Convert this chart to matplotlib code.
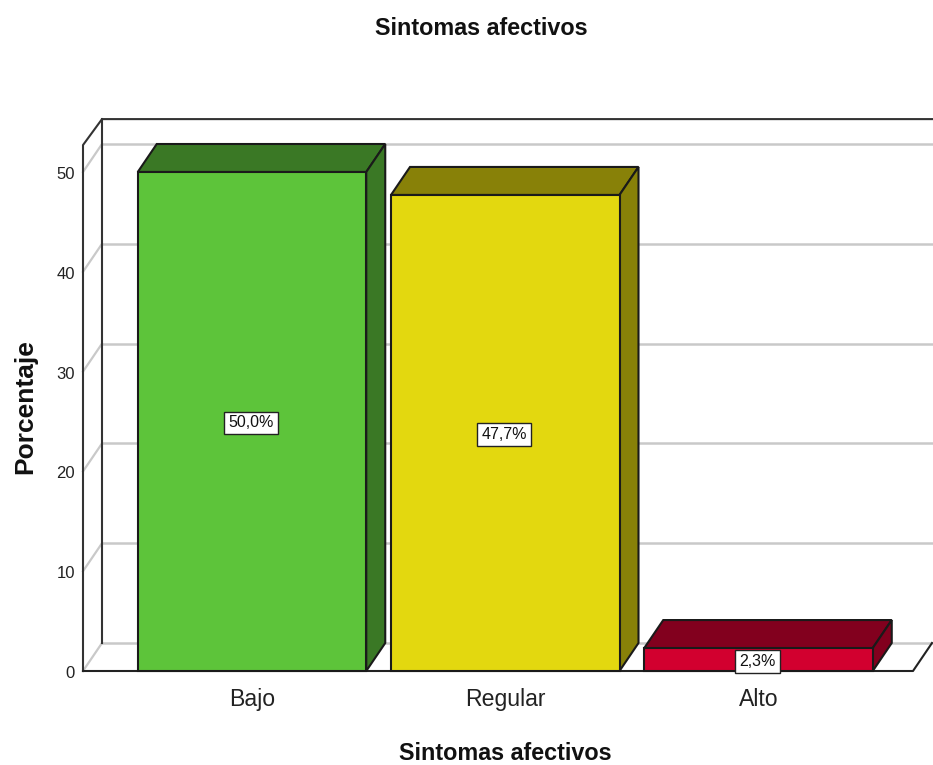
import matplotlib
matplotlib.use("Agg")
import matplotlib.pyplot as plt
from matplotlib.patches import Polygon

plt.rcParams["font.family"] = ["Liberation Sans", "DejaVu Sans"]

categories = ["Bajo", "Regular", "Alto"]
values = [50.0, 47.7, 2.3]
labels = ["50,0%", "47,7%", "2,3%"]
y_ticks = [0, 10, 20, 30, 40, 50]

FRONT = ["#5DC43A", "#E3D80F", "#D2002F"]
SHADE = ["#3A7825", "#888108", "#82001E"]
GRID = "#C9C9C9"
EDGE = "#1A1A1A"

# chart scale: 253.25 px per category, 9.98 px per percent
DX = 19 / 253.25
DY = 28 / 9.98
BAR_W = 228.5 / 253.25
Y_TOP = 52.7
X_LEFT = -169 / 253.25
X_RIGHT = 661 / 253.25

fig = plt.figure(figsize=(9.33, 7.65), dpi=100, facecolor="white")
ax = fig.add_axes([0, 0, 1, 1])
ax.set_xlim(-252 / 253.25, 681 / 253.25)
ax.set_ylim(-94 / 9.98, 671 / 9.98)
ax.axis("off")

# back wall gridlines and side wall
for t in y_ticks:
    ax.plot([X_LEFT, X_LEFT + DX], [t, t + DY], color=GRID, lw=1.6, zorder=1)
    ax.plot([X_LEFT + DX, X_RIGHT + DX], [t + DY, t + DY], color=GRID, lw=1.8, zorder=1)

# frame
back_top = Y_TOP + 2.6
ax.plot([X_LEFT + DX, X_LEFT + DX], [DY, back_top], color="#333333", lw=1.5, zorder=2)
ax.plot([X_LEFT, X_LEFT, X_LEFT + DX, X_RIGHT + DX],
        [0, Y_TOP, back_top, back_top], color="#333333", lw=1.5, zorder=2)
ax.plot([X_LEFT, X_RIGHT, X_RIGHT + DX], [0, 0, DY], color="#222222", lw=1.5, zorder=2)

for i, (v, lab) in enumerate(zip(values, labels)):
    x0, x1 = i - BAR_W / 2, i + BAR_W / 2
    ax.add_patch(Polygon([(x0, v), (x1, v), (x1 + DX, v + DY), (x0 + DX, v + DY)],
                         facecolor=SHADE[i], edgecolor=EDGE, lw=1.5, zorder=3))
    ax.add_patch(Polygon([(x1, 0), (x1, v), (x1 + DX, v + DY), (x1 + DX, DY)],
                         facecolor=SHADE[i], edgecolor=EDGE, lw=1.5, zorder=3))
    ax.bar(i, v, width=BAR_W, color=FRONT[i], edgecolor=EDGE, lw=1.5, zorder=4)
    ax.text(i - 0.004, v / 2 - 0.15, lab, ha="center", va="center", fontsize=11.5, color="#111111", zorder=5,
            bbox=dict(boxstyle="square,pad=0.25", facecolor="white", edgecolor="#222222", lw=1))
    ax.text(i, -2.9, categories[i], ha="center", va="center", fontsize=16.6, color="#222222")

for t in y_ticks:
    ax.text(X_LEFT - 8 / 253.25, t - 0.25, str(t), ha="right", va="center", fontsize=12, color="#222222")

ax.text(0.904, 64.4, "Sintomas afectivos", ha="center", va="center", fontsize=16.8, fontweight="bold", color="#111111")
ax.text(1.0, -8.3, "Sintomas afectivos", ha="center", va="center", fontsize=16.8, fontweight="bold", color="#111111")
ax.text(-227 / 253.25, 26.45, "Porcentaje", ha="center", va="center", rotation=90,
        fontsize=19, fontweight="bold", color="#111111")

fig.savefig("out.png", dpi=100)
